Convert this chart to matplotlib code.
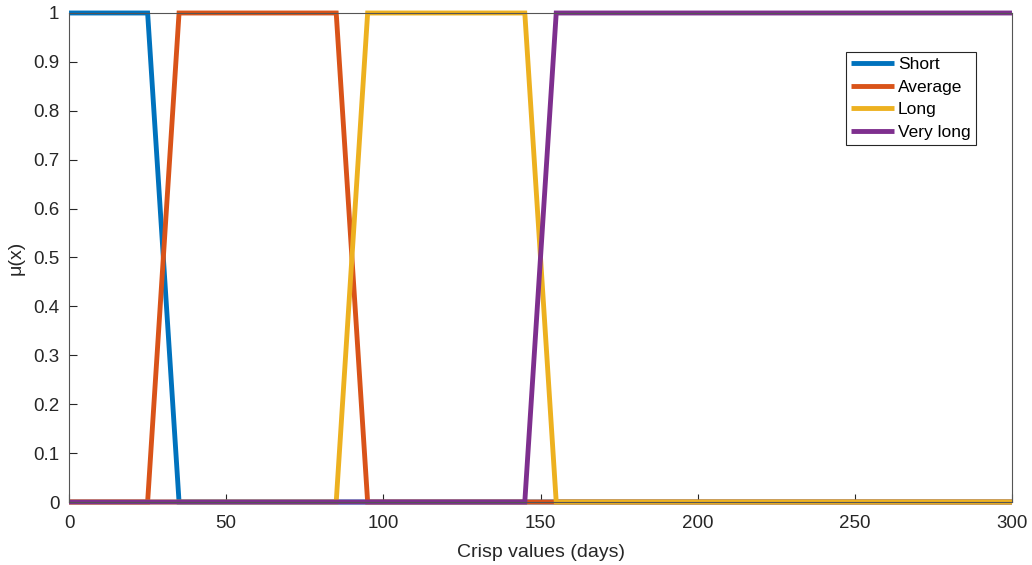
import numpy as np
import matplotlib as ma
ma.use('agg')
import matplotlib.pyplot as plt

# membership function breakpoints (days) and values
short_x = [0, 25, 35, 300]
short_y = [1, 1, 0, 0]
average_x = [0, 25, 35, 85, 95, 300]
average_y = [0, 0, 1, 1, 0, 0]
long_x = [0, 85, 95, 145, 155, 300]
long_y = [0, 0, 1, 1, 0, 0]
vlong_x = [0, 145, 155, 300]
vlong_y = [0, 0, 1, 1]

labels = ['Short', 'Average', 'Long', 'Very long']
colors = ['#0072BD', '#D95319', '#EDB120', '#7E2F8E']

plt.rcParams['font.family'] = ['Liberation Sans', 'DejaVu Sans']

def main():
    fig = plt.figure(figsize=(10.32, 5.65), dpi=100)
    ax = fig.add_axes([0.0669, 0.1115, 0.9137, 0.8655])
    series = [(short_x, short_y), (average_x, average_y),
              (long_x, long_y), (vlong_x, vlong_y)]
    for (x, y), lab, c in zip(series, labels, colors):
        ax.plot(x, y, color=c, lw=3.5, label=lab, clip_on=False,
                solid_joinstyle='miter', solid_capstyle='butt')
    ax.set_xlim(0, 300)
    ax.set_ylim(0, 1)
    ax.set_xticks(np.arange(0, 301, 50))
    ax.set_yticks(np.round(np.arange(0, 1.01, 0.1), 1))
    ax.set_yticklabels(['0', '0.1', '0.2', '0.3', '0.4', '0.5',
                        '0.6', '0.7', '0.8', '0.9', '1'])
    ax.tick_params(direction='in', length=6, width=0.8, colors='#262626',
                   labelsize=13.5, labelcolor='#262626')
    ax.tick_params(axis='x', pad=9)
    ax.tick_params(axis='y', pad=7)
    for s in ax.spines.values():
        s.set_color('#555555')
        s.set_linewidth(0.8)
    ax.set_xlabel('Crisp values (days)', fontsize=14, color='#262626', labelpad=9)
    ax.set_ylabel('\u03bc(x)', fontsize=14, color='#262626', labelpad=6)
    leg = ax.legend(loc='upper right', bbox_to_anchor=(0.9615, 0.92),
                    fontsize=12.5, frameon=True, fancybox=False,
                    handlelength=2.5, handletextpad=0.2, borderpad=0.3,
                    labelspacing=0.42, borderaxespad=0)
    leg.get_frame().set_edgecolor('#262626')
    leg.get_frame().set_linewidth(0.8)
    leg.get_frame().set_alpha(1)
    fig.savefig('out.png', dpi=100)

if __name__ == "__main__":
    main()
